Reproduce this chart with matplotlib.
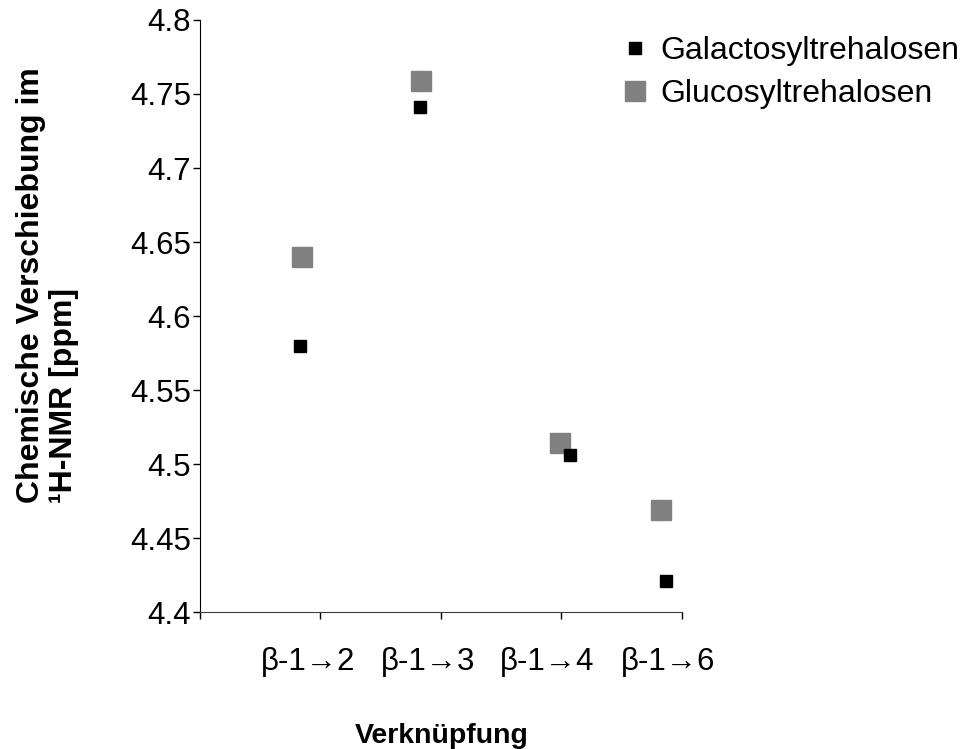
import matplotlib.pyplot as plt
import numpy as np

plt.rcParams['font.family'] = ['Liberation Sans', 'DejaVu Sans']

# category labels and where they sit on the 0..4 axis
labels = ['β-1→2', 'β-1→3', 'β-1→4', 'β-1→6']
label_pos = [0.90, 1.90, 2.88, 3.89]

# data
gal_x = [0.83, 1.83, 3.07, 3.87]
gal_y = [4.58, 4.741, 4.506, 4.421]
glc_x = [0.85, 1.84, 2.99, 3.83]
glc_y = [4.64, 4.759, 4.514, 4.469]

fig = plt.figure(figsize=(9.62, 7.49), dpi=100)
ax = fig.add_axes([0.2074, 0.1829, 0.5012, 0.7904])

ax.plot(glc_x, glc_y, 's', color='#808080', markersize=13.7, label='Glucosyltrehalosen', zorder=2)
ax.plot(gal_x, gal_y, 's', color='black', markersize=8.6, label='Galactosyltrehalosen', zorder=3)

ax.set_xlim(0, 4)
ax.set_ylim(4.4, 4.8)
ax.set_yticks(np.arange(4.4, 4.801, 0.05))
ax.set_yticklabels(['4.4', '4.45', '4.5', '4.55', '4.6', '4.65', '4.7', '4.75', '4.8'])
ax.set_xticks([0, 1, 2, 3, 4])
ax.set_xticklabels([])
ax.set_xticks(label_pos, minor=True)
ax.set_xticklabels(labels, minor=True)

ax.tick_params(axis='y', direction='out', length=5, width=1, pad=1, labelsize=22.5)
ax.tick_params(axis='x', which='major', direction='out', length=5, width=1)
ax.tick_params(axis='x', which='minor', length=0, pad=25, labelsize=22.5)

for s in ['top', 'right']:
    ax.spines[s].set_visible(False)
ax.spines['left'].set_color('black')
ax.spines['bottom'].set_color('#404040')

fig.text(0.0494, 0.3284, 'Chemische Verschiebung im\n¹H-NMR [ppm]', rotation=90,
         ha='center', va='bottom', multialignment='left',
         fontsize=23, fontweight='bold', linespacing=1.1)
fig.text(0.459, 0.008, 'Verknüpfung', ha='center', va='baseline', fontsize=20.5, fontweight='bold')

h, l = ax.get_legend_handles_labels()
fig.legend(h[::-1], l[::-1], loc='upper left', bbox_to_anchor=(0.63, 0.969), frameon=False,
           fontsize=23, handlelength=1.0, handletextpad=0.3, labelspacing=0.4, borderaxespad=0)

fig.savefig('out.png', dpi=100)
